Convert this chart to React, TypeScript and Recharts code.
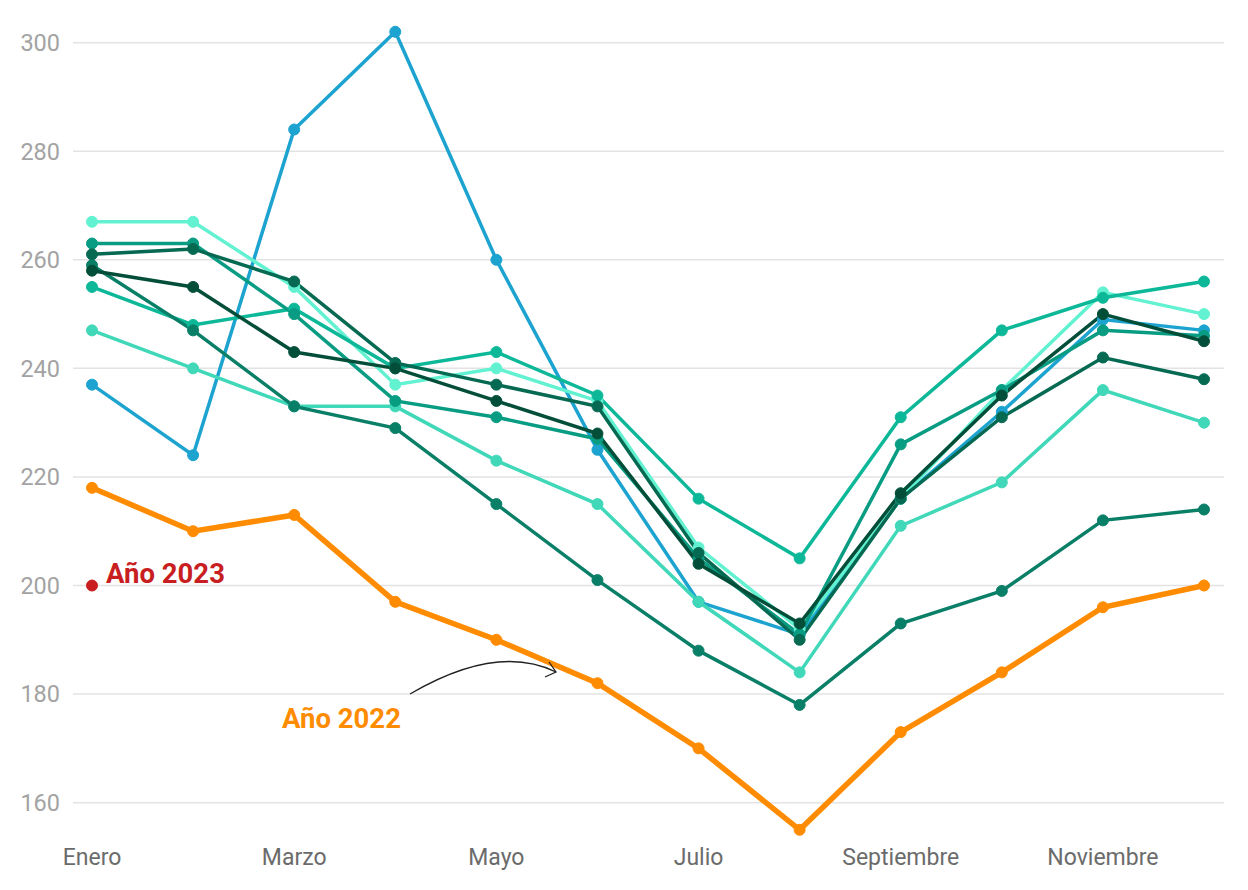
import { LineChart, Line, XAxis, YAxis, ReferenceLine } from 'recharts'

const MONTHS = [
  'Enero', 'Febrero', 'Marzo', 'Abril', 'Mayo', 'Junio',
  'Julio', 'Agosto', 'Septiembre', 'Octubre', 'Noviembre', 'Diciembre',
]
const Y_TICKS = [160, 180, 200, 220, 240, 260, 280, 300]

// previous years (teal / blue shades)
const SERIE_MINT = [267, 267, 255, 237, 240, 234, 207, 192, 216, 236, 254, 250]
const SERIE_TEAL = [263, 263, 250, 234, 231, 227, 205, 191, 226, 236, 247, 246]
const SERIE_DARK = [261, 262, 256, 241, 237, 233, 206, 190, 216, 231, 242, 238]
const SERIE_DEEP = [259, 247, 233, 229, 215, 201, 188, 178, 193, 199, 212, 214]
const SERIE_DARKEST = [258, 255, 243, 240, 234, 228, 204, 193, 217, 235, 250, 245]
const SERIE_MID = [255, 248, 251, 240, 243, 235, 216, 205, 231, 247, 253, 256]
const SERIE_LIGHT = [247, 240, 233, 233, 223, 215, 197, 184, 211, 219, 236, 230]
const SERIE_BLUE = [237, 224, 284, 302, 260, 225, 197, 191, 216, 232, 249, 247]

const YEAR_2022 = [218, 210, 213, 197, 190, 182, 170, 155, 173, 184, 196, 200]
const YEAR_2023 = [200]

const SERIES = [
  { key: 'blue', values: SERIE_BLUE, color: '#1DA3D0' },
  { key: 'mint', values: SERIE_MINT, color: '#62F2D2' },
  { key: 'light', values: SERIE_LIGHT, color: '#40D8B9' },
  { key: 'mid', values: SERIE_MID, color: '#0DB899' },
  { key: 'teal', values: SERIE_TEAL, color: '#089C83' },
  { key: 'deep', values: SERIE_DEEP, color: '#0A7F68' },
  { key: 'dark', values: SERIE_DARK, color: '#066A53' },
  { key: 'darkest', values: SERIE_DARKEST, color: '#034E39' },
]

const ORANGE = '#FF8C00'
const RED = '#C81E22'
const FONT = 'Roboto, "Noto Sans", sans-serif'

const data = MONTHS.map((month, i) => {
  const row: Record<string, string | number | null> = { month }
  SERIES.forEach((s) => { row[s.key] = s.values[i] })
  row.y2022 = YEAR_2022[i]
  row.y2023 = YEAR_2023[i] ?? null
  return row
})

const label2023 = (props: any) => {
  const { x, y, value } = props
  if (value == null) return null
  return (
    <text x={x + 14} y={y - 3} fill={RED} fontSize={27.5} fontWeight={700} fontFamily={FONT}>
      Año 2023
    </text>
  )
}

export default function App() {
  return (
    <div style={{ position: 'relative', width: 1232, height: 874, fontFamily: FONT }}>
      <LineChart width={1232} height={874} data={data} margin={{ top: 23.8, right: 16, left: 0, bottom: 0 }}>
        <XAxis
          dataKey="month"
          interval={1}
          height={52.2}
          padding={{ left: 19, right: 20 }}
          axisLine={false}
          tickLine={false}
          tickSize={0}
          tickMargin={19}
          tick={{ fill: '#6b6b6b', fontSize: 23, fontFamily: FONT }}
        />
        <YAxis
          domain={[155, 302]}
          ticks={Y_TICKS}
          width={65}
          axisLine={false}
          tickLine={false}
          tickSize={0}
          tickMargin={13}
          tick={{ fill: '#a3a3a3', fontSize: 23.5, fontFamily: FONT }}
        />
        {/* horizontal grid only at the tick values */}
        {Y_TICKS.map((t) => (
          <ReferenceLine key={t} y={t} stroke="#e3e3e3" strokeWidth={1.5} />
        ))}
        {SERIES.map((s) => (
          <Line
            key={s.key}
            type="linear"
            dataKey={s.key}
            stroke={s.color}
            strokeWidth={3.5}
            dot={{ r: 5.5, fill: s.color, stroke: s.color, strokeWidth: 1 }}
            activeDot={false}
            isAnimationActive={false}
          />
        ))}
        <Line
          type="linear"
          dataKey="y2022"
          stroke={ORANGE}
          strokeWidth={5.5}
          dot={{ r: 5.5, fill: ORANGE, stroke: ORANGE, strokeWidth: 1 }}
          activeDot={false}
          isAnimationActive={false}
        />
        <Line
          type="linear"
          dataKey="y2023"
          stroke={RED}
          strokeWidth={3}
          dot={{ r: 5.5, fill: RED, stroke: RED, strokeWidth: 1 }}
          activeDot={false}
          label={label2023}
          connectNulls={false}
          isAnimationActive={false}
        />
      </LineChart>

      <svg
        width={1232}
        height={874}
        style={{ position: 'absolute', left: 0, top: 0, pointerEvents: 'none' }}
      >
        <text x={274} y={720} fill={ORANGE} fontSize={27.5} fontWeight={700} fontFamily={FONT}>
          Año 2022
        </text>
        <path d="M402,686 Q489,635 548,664" fill="none" stroke="#222" strokeWidth={1.3} />
        <path d="M541,654 L548,664 L537,669" fill="none" stroke="#222" strokeWidth={1.3} />
      </svg>
    </div>
  )
}
